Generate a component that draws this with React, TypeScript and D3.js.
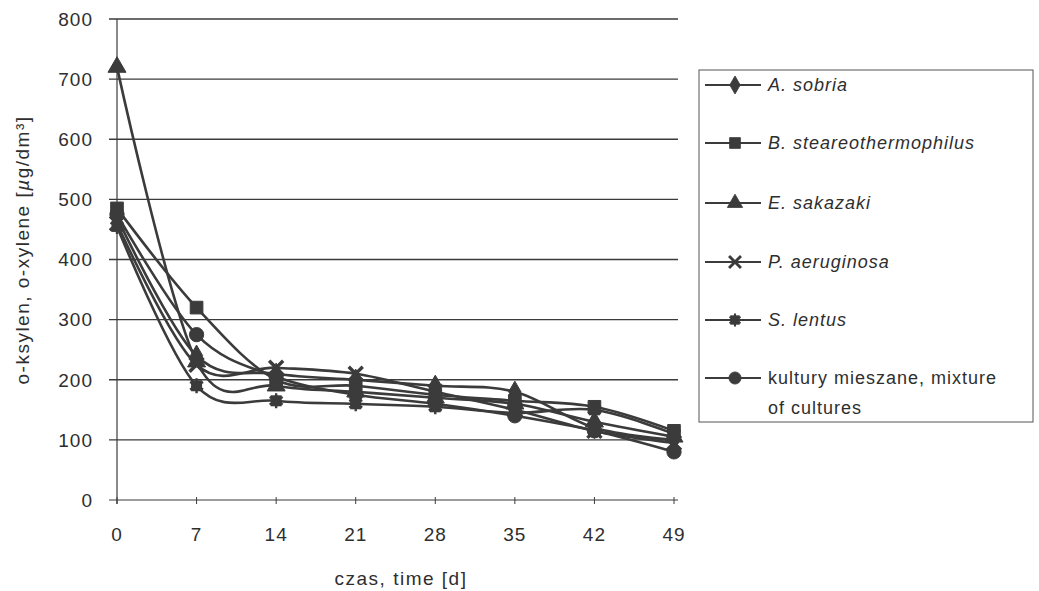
import React from 'react';
import * as d3 from 'd3';

// time points [d]
const days = [0, 7, 14, 21, 28, 35, 42, 49];
const yTicks = [0, 100, 200, 300, 400, 500, 600, 700, 800];

// o-xylene concentration [µg/dm3]
const aSobria = [470, 240, 210, 200, 190, 180, 120, 100];
const bStear = [485, 320, 200, 190, 175, 165, 155, 115];
const eSakazaki = [720, 230, 190, 180, 170, 160, 130, 105];
const pAeruginosa = [460, 225, 220, 210, 180, 150, 115, 95];
const sLentus = [455, 190, 165, 160, 155, 145, 150, 110];
const mixed = [475, 275, 205, 175, 160, 140, 115, 80];

const seriesNames = [
  'A. sobria',
  'B. steareothermophilus',
  'E. sakazaki',
  'P. aeruginosa',
  'S. lentus',
  'kultury mieszane, mixture|of cultures',
];
const seriesValues = [aSobria, bStear, eSakazaki, pAeruginosa, sLentus, mixed];
const seriesShapes = ['diamond', 'square', 'triangle', 'x', 'asterisk', 'circle'];
const italicSeries = [true, true, true, true, true, false];

const INK = '#3b3b3b';
const TEXT = '#2e2e2e';
const FONT = 'Liberation Sans, Arial, sans-serif';

const Marker: React.FC<{ shape: string; x: number; y: number; s?: number }> = ({ shape, x, y, s = 1 }) => {
  const t = `translate(${x},${y}) scale(${s})`;
  if (shape === 'x') {
    return <path transform={t} d={d3.symbol(d3.symbolX, 130)() || ''} stroke={INK} strokeWidth={3.4} fill="none" />;
  }
  if (shape === 'asterisk') {
    return (
      <g transform={t}>
        <rect x={-5.5} y={-5.5} width={11} height={11} fill={INK} />
        <path d={d3.symbol(d3.symbolAsterisk, 160)() || ''} stroke={INK} strokeWidth={2.4} fill="none" />
      </g>
    );
  }
  const sym =
    shape === 'diamond' ? d3.symbolDiamond :
    shape === 'square' ? d3.symbolSquare :
    shape === 'triangle' ? d3.symbolTriangle : d3.symbolCircle;
  const size = shape === 'diamond' ? 130 : shape === 'triangle' ? 140 : 160;
  return <path transform={t} d={d3.symbol(sym, size)() || ''} fill={INK} stroke={INK} strokeWidth={1} />;
};

export default function App() {
  const width = 1039;
  const height = 591;
  const x = d3.scaleLinear().domain([0, 49]).range([117, 674]);
  const y = d3.scaleLinear().domain([0, 800]).range([500, 19]);
  const plotRight = 678;

  const line = d3
    .line<number>()
    .x((_, i) => x(days[i]))
    .y((d) => y(d))
    .curve(d3.curveCardinal.tension(0));

  const legendX = 699;
  const legendY = 70;
  const legendRows = [85, 143, 203, 262, 320, 378];

  return (
    <svg
      width={width}
      height={height}
      style={{ position: 'absolute', left: 0, top: 0, background: '#fff' }}
      fontFamily={FONT}
    >
      <rect width={width} height={height} fill="#fff" />

      {/* gridlines */}
      {yTicks.map((t) => (
        <line key={t} x1={109} x2={plotRight} y1={y(t)} y2={y(t)} stroke={INK} strokeWidth={t === 0 ? 1 : 1.3} />
      ))}
      {/* y axis */}
      <line x1={x(0)} x2={x(0)} y1={y(800)} y2={y(0) + 4} stroke={INK} strokeWidth={1.2} />
      {/* x ticks */}
      {days.map((d) => (
        <line key={d} x1={x(d)} x2={x(d)} y1={y(0) - 3} y2={y(0) + 4} stroke={INK} strokeWidth={1} />
      ))}

      {yTicks.map((t) => (
        <text key={t} x={93} y={y(t)} dy="0.36em" textAnchor="end" fontSize={19} fill={TEXT} letterSpacing={1}>
          {t}
        </text>
      ))}
      {days.map((d) => (
        <text key={d} x={x(d)} y={541} textAnchor="middle" fontSize={19} fill={TEXT} letterSpacing={1}>
          {d}
        </text>
      ))}

      <text x={401} y={585} textAnchor="middle" fontSize={19} fill={TEXT} letterSpacing={1.5}>
        czas,  time  [d]
      </text>
      <text
        transform="translate(29,250) rotate(-90)"
        textAnchor="middle"
        fontSize={19}
        fill={TEXT}
        letterSpacing={1.5}
      >
        o-ksylen,  o-xylene  [<tspan fontStyle="italic">µ</tspan>g/dm³]
      </text>

      {/* series */}
      {seriesValues.map((vals, si) => (
        <path key={si} d={line(vals) || ''} fill="none" stroke={INK} strokeWidth={2.6} />
      ))}
      {seriesValues.map((vals, si) =>
        vals.map((v, i) => <Marker key={`${si}-${i}`} shape={seriesShapes[si]} x={x(days[i])} y={y(v)} />)
      )}

      {/* legend */}
      <rect x={legendX} y={legendY} width={334} height={352} fill="none" stroke="#555" strokeWidth={1} />
      {seriesNames.map((name, i) => {
        const ry = legendRows[i];
        const parts = name.split('|');
        return (
          <g key={name}>
            <line x1={705} x2={761} y1={ry} y2={ry} stroke={INK} strokeWidth={2} />
            <Marker shape={seriesShapes[i]} x={735} y={ry} s={0.85} />
            <text x={768} y={ry} dy="0.36em" fontSize={18} fill={TEXT} fontStyle={italicSeries[i] ? 'italic' : 'normal'} letterSpacing={1}>
              {parts[0]}
            </text>
            {parts[1] && (
              <text x={768} y={ry + 30} dy="0.36em" fontSize={18} fill={TEXT} letterSpacing={1}>
                {parts[1]}
              </text>
            )}
          </g>
        );
      })}
    </svg>
  );
}
